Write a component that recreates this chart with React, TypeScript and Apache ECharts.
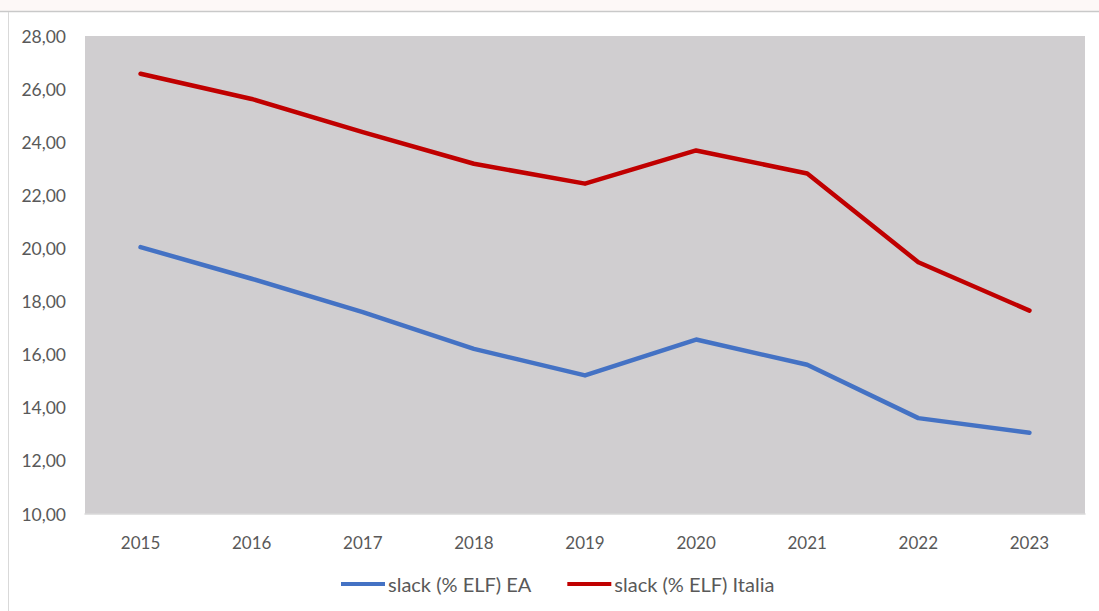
import React, { useEffect, useRef } from "react";
import * as echarts from "echarts";

const years = ["2015", "2016", "2017", "2018", "2019", "2020", "2021", "2022", "2023"];
const slackEA = [20.05, 18.86, 17.6, 16.22, 15.22, 16.57, 15.62, 13.61, 13.06];
const slackItalia = [26.58, 25.63, 24.38, 23.19, 22.44, 23.69, 22.82, 19.48, 17.66];
const seriesNames = ["slack (% ELF) EA", "slack (% ELF) Italia"];

export default function App() {
  const ref = useRef<HTMLDivElement>(null);
  useEffect(() => {
    if (!ref.current) return;
    const chart = echarts.init(ref.current, null, { renderer: "svg" });
    const font = "Lato";
    chart.setOption({
      animation: false,
      backgroundColor: "#ffffff",
      textStyle: { fontFamily: font },
      graphic: [
        { type: "rect", shape: { x: 0, y: 0, width: 1099, height: 11 }, style: { fill: "#fdf8f7" }, silent: true },
        { type: "line", shape: { x1: 0, y1: 11.5, x2: 1099, y2: 11.5 }, style: { stroke: "#c9c9c9", lineWidth: 1.5 }, silent: true },
        { type: "line", shape: { x1: 8.5, y1: 12, x2: 8.5, y2: 611 }, style: { stroke: "#d9d9d9", lineWidth: 1 }, silent: true },
      ],
      grid: {
        left: 85,
        right: 14,
        top: 36,
        bottom: 97,
        show: true,
        backgroundColor: "#d0ced0",
        borderWidth: 0,
        containLabel: false,
      },
      legend: {
        top: 569,
        left: 336,
        itemWidth: 44,
        itemHeight: 4,
        itemGap: 36,
        icon: "rect",
        textStyle: { color: "#595959", fontSize: 20, fontFamily: font, padding: [0, 0, 0, -2] },
        data: seriesNames,
      },
      xAxis: {
        type: "category",
        data: years,
        boundaryGap: true,
        axisLine: { show: true, lineStyle: { color: "#d9d9d9", width: 1.5 } },
        axisTick: { show: false },
        axisLabel: { color: "#595959", fontSize: 17, fontFamily: font, margin: 20 },
        splitLine: { show: false },
      },
      yAxis: {
        type: "value",
        min: 10,
        max: 28,
        interval: 2,
        axisLine: { show: false },
        axisTick: { show: false },
        splitLine: { show: false },
        axisLabel: {
          color: "#595959",
          fontSize: 17.5,
          fontFamily: font,
          margin: 19,
          formatter: (v: number) => v.toFixed(2).replace(".", ","),
        },
      },
      series: [
        {
          name: seriesNames[0],
          type: "line",
          data: slackEA,
          symbol: "none",
          color: "#4472c4",
          lineStyle: { color: "#4472c4", width: 4.5, cap: "round", join: "round" },
        },
        {
          name: seriesNames[1],
          type: "line",
          data: slackItalia,
          symbol: "none",
          color: "#c00000",
          lineStyle: { color: "#c00000", width: 4.5, cap: "round", join: "round" },
        },
      ],
    });
    return () => chart.dispose();
  }, []);
  return (
    <div
      ref={ref}
      style={{ position: "fixed", left: 0, top: 0, width: 1099, height: 611 }}
    />
  );
}
